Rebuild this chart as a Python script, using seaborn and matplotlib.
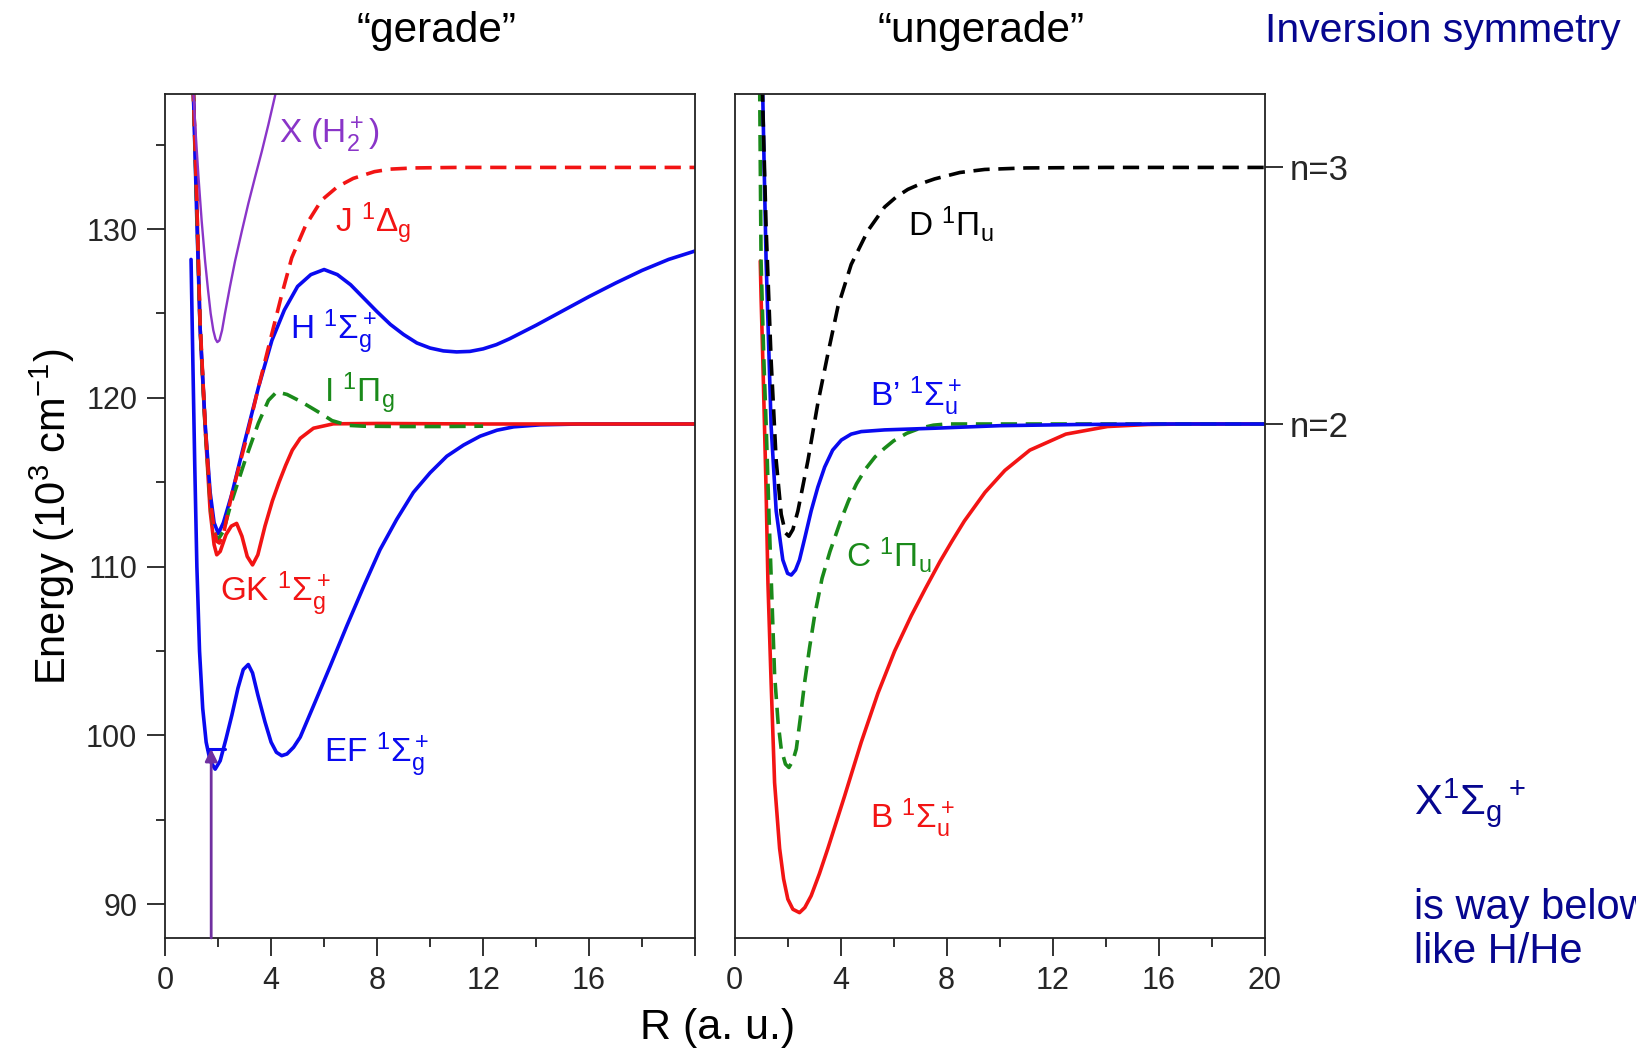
import matplotlib
matplotlib.use("Agg")
import matplotlib.pyplot as plt
import seaborn as sns
import pandas as pd

# ---------------- data (R in a.u., energy in 10^3 cm^-1) ----------------
# Left panel: "gerade"
xh2p_R = [1.02, 1.07, 1.15, 1.26, 1.38, 1.51, 1.62, 1.72, 1.82, 1.90, 1.97, 2.05, 2.15, 2.26,
          2.45, 2.64, 2.90, 3.14, 3.40, 3.65, 3.90, 4.15, 4.25]
xh2p_E = [139.5, 138.0, 135.8, 133.1, 130.5, 128.1, 126.4, 125.0, 124.0, 123.5, 123.3, 123.4,
          124.0, 125.0, 126.6, 128.1, 129.9, 131.5, 133.1, 134.6, 136.2, 137.9, 138.6]

j_R = [1.00, 1.07, 1.19, 1.32, 1.51, 1.70, 1.85, 1.95, 2.05, 2.20, 2.52, 3.02, 3.52, 4.03, 4.40,
       4.78, 5.30, 5.90, 6.50, 7.10, 7.90, 8.50, 9.40, 11.0, 14.0, 17.0, 20.0]
j_E = [140.0, 138.0, 132.0, 124.5, 118.5, 114.0, 112.2, 111.5, 111.4, 111.9, 114.3, 117.3, 120.6,
       123.8, 126.1, 128.3, 130.2, 131.7, 132.5, 133.0, 133.4, 133.55, 133.62, 133.65, 133.65,
       133.65, 133.65]

h_R = [1.00, 1.07, 1.19, 1.32, 1.51, 1.70, 1.85, 2.01, 2.20, 2.52, 3.02, 3.52, 4.03, 4.50, 5.00,
       5.50, 6.00, 6.50, 7.00, 7.50, 8.00, 8.50, 9.00, 9.50, 10.0, 10.5, 11.0, 11.5, 12.0, 12.5,
       13.0, 13.5, 14.0, 15.0, 16.0, 17.0, 18.0, 19.0, 20.0]
h_E = [140.0, 138.0, 131.0, 124.2, 118.5, 114.4, 112.6, 111.96, 112.6, 114.3, 117.5, 120.6, 123.4,
       125.2, 126.6, 127.3, 127.6, 127.3, 126.7, 125.9, 125.1, 124.35, 123.75, 123.25, 122.95,
       122.78, 122.72, 122.75, 122.9, 123.15, 123.5, 123.9, 124.3, 125.15, 126.0, 126.8, 127.55,
       128.2, 128.7]

i_R = [1.00, 1.07, 1.19, 1.32, 1.51, 1.70, 1.85, 2.00, 2.20, 2.50, 3.02, 3.52, 3.90, 4.21, 4.60,
       5.10, 5.53, 5.85, 6.30, 6.90, 7.50, 9.00, 10.5, 12.0]
i_E = [140.0, 138.0, 131.5, 124.3, 118.3, 113.8, 112.0, 111.6, 112.1, 113.8, 116.3, 118.5, 119.85,
       120.35, 120.2, 119.8, 119.4, 119.1, 118.65, 118.37, 118.32, 118.3, 118.3, 118.32]

gk_R = [1.00, 1.07, 1.19, 1.32, 1.51, 1.70, 1.85, 1.95, 2.08, 2.30, 2.50, 2.70, 2.90, 3.10, 3.30,
        3.50, 3.77, 4.05, 4.30, 4.55, 4.80, 5.10, 5.60, 6.35, 8.0, 12.0, 16.0, 20.0]
gk_E = [140.0, 138.0, 132.1, 124.2, 118.3, 113.3, 111.3, 110.7, 110.9, 111.9, 112.4, 112.56, 111.8,
        110.6, 110.1, 110.7, 112.4, 113.9, 115.0, 116.0, 116.9, 117.6, 118.2, 118.46, 118.48,
        118.45, 118.45, 118.45]

ef_R = [0.98, 1.05, 1.12, 1.20, 1.30, 1.42, 1.55, 1.70, 1.89, 2.08, 2.30, 2.52, 2.75, 2.95, 3.14,
        3.30, 3.50, 3.77, 4.00, 4.20, 4.40, 4.60, 4.85, 5.10, 5.60, 6.23, 6.86, 7.50, 8.11, 8.74,
        9.37, 10.0, 10.63, 11.26, 11.89, 12.52, 13.15, 14.15, 15.66, 20.0]
ef_E = [128.2, 122.0, 116.0, 110.0, 105.0, 101.6, 99.6, 98.5, 98.0, 98.5, 99.8, 101.2, 102.8, 103.9,
        104.2, 103.7, 102.4, 100.8, 99.6, 99.0, 98.8, 98.9, 99.3, 99.9, 101.75, 104.1, 106.5,
        108.85, 111.0, 112.8, 114.4, 115.56, 116.54, 117.2, 117.73, 118.08, 118.28, 118.4, 118.45,
        118.45]

vib_R = [1.60, 2.25]
vib_E = [99.2, 99.2]
arrow_R = 1.74
arrow_E = [88.0, 99.2]

# Right panel: "ungerade"
d_R = [1.05, 1.07, 1.19, 1.38, 1.57, 1.76, 1.92, 2.05, 2.20, 2.39, 2.77, 3.14, 3.52, 3.90, 4.40,
       5.03, 5.66, 6.10, 6.54, 7.05, 7.55, 8.50, 9.44, 11.0, 14.0, 17.0, 20.0]
d_E = [138.5, 137.0, 130.1, 122.2, 116.3, 113.1, 112.0, 111.8, 112.2, 113.3, 116.3, 119.66, 122.6,
       125.4, 127.9, 129.9, 131.3, 131.9, 132.35, 132.7, 132.97, 133.35, 133.53, 133.62, 133.65,
       133.65, 133.65]

bp_R = [1.05, 1.10, 1.19, 1.38, 1.57, 1.82, 2.00, 2.14, 2.30, 2.45, 2.65, 2.89, 3.14, 3.40, 3.70,
        4.03, 4.40, 4.78, 5.66, 7.55, 10.0, 13.0, 16.0, 20.0]
bp_E = [139.0, 135.0, 128.1, 118.3, 113.3, 110.4, 109.6, 109.5, 109.8, 110.4, 111.7, 113.3, 114.7,
        115.9, 116.9, 117.5, 117.85, 118.0, 118.1, 118.2, 118.35, 118.42, 118.45, 118.45]

c_R = [0.94, 0.97, 1.00, 1.10, 1.20, 1.30, 1.40, 1.51, 1.64, 1.76, 1.92, 2.05, 2.20, 2.33, 2.48,
       2.64, 2.83, 3.02, 3.30, 3.60, 4.00, 4.30, 4.60, 4.95, 5.30, 5.65, 6.00, 6.50, 7.00, 7.50,
       8.00, 12.0, 16.0, 20.0]
c_E = [140.0, 134.0, 128.1, 122.5, 118.0, 113.0, 108.5, 103.6, 100.8, 99.2, 98.3, 98.1, 98.5, 99.2,
       101.0, 103.1, 105.2, 107.1, 109.3, 110.9, 112.7, 113.9, 114.9, 115.8, 116.5, 117.0, 117.45,
       117.9, 118.2, 118.38, 118.45, 118.45, 118.45, 118.45]

b_R = [0.97, 1.00, 1.07, 1.13, 1.19, 1.26, 1.38, 1.51, 1.70, 1.85, 2.01, 2.20, 2.45, 2.65, 2.89,
       3.20, 3.52, 4.15, 4.78, 5.41, 6.04, 6.67, 7.20, 7.75, 8.20, 8.67, 9.45, 10.2, 11.14, 12.5,
       14.07, 15.6, 17.0, 20.0]
b_E = [128.1, 126.0, 122.0, 118.3, 114.5, 109.0, 103.1, 97.2, 93.3, 91.5, 90.3, 89.7, 89.5, 89.8,
       90.5, 91.8, 93.3, 96.4, 99.6, 102.5, 105.0, 107.1, 108.7, 110.3, 111.5, 112.7, 114.4, 115.7,
       116.9, 117.85, 118.3, 118.42, 118.45, 118.45]

n_levels = [133.65, 118.45]
n_labels = ["n=3", "n=2"]

x_ticks = [0, 4, 8, 12, 16, 20]
x_minor = [2, 6, 10, 14, 18]
y_ticks = [90, 100, 110, 120, 130]
y_minor = [95, 105, 115, 125, 135]

# ---------------- style ----------------
BLUE = "#0a0af0"
RED = "#f21414"
GREEN = "#1a8a1a"
BLACK = "#000000"
PURPLE = "#8a35c8"
ARROW = "#7030a0"
NAVY = "#06068f"

sns.set_theme(style="ticks")
plt.rcParams["font.family"] = ["Liberation Sans", "DejaVu Sans"]
plt.rcParams["mathtext.fontset"] = "custom"
plt.rcParams["mathtext.rm"] = "Liberation Sans"
plt.rcParams["mathtext.it"] = "Liberation Sans"
plt.rcParams["mathtext.bf"] = "Liberation Sans:bold"
plt.rcParams["mathtext.sf"] = "Liberation Sans"
plt.rcParams["axes.edgecolor"] = "#222222"
plt.rcParams["axes.linewidth"] = 1.3

DASH = (0, (4.5, 2.4))

fig = plt.figure(figsize=(16.36, 10.48), dpi=100)
axL = fig.add_axes([0.1009, 0.1050, 0.3240, 0.8053])
axR = fig.add_axes([0.4490, 0.1050, 0.3240, 0.8053])


def curve(ax, R, E, color, lw=2.6, ls="-"):
    df = pd.DataFrame({"R": R, "E": E})
    sns.lineplot(data=df, x="R", y="E", ax=ax, color=color, lw=lw, sort=False,
                 estimator=None, linestyle=ls, legend=False)


# left panel curves
curve(axL, ef_R, ef_E, BLUE)
curve(axL, gk_R, gk_E, RED)
curve(axL, h_R, h_E, BLUE)
curve(axL, i_R, i_E, GREEN, ls=DASH)
curve(axL, j_R, j_E, RED, ls=DASH)
curve(axL, xh2p_R, xh2p_E, PURPLE, lw=1.7)
curve(axL, vib_R, vib_E, BLUE, lw=2.2)
axL.annotate("", xy=(arrow_R, arrow_E[1]), xytext=(arrow_R, arrow_E[0]),
             arrowprops=dict(arrowstyle="-|>", color=ARROW, lw=2.0, mutation_scale=18,
                             shrinkA=0, shrinkB=0))

# right panel curves
curve(axR, b_R, b_E, RED)
curve(axR, c_R, c_E, GREEN, ls=DASH)
curve(axR, bp_R, bp_E, BLUE)
curve(axR, d_R, d_E, BLACK, ls=DASH)

# axes formatting
for ax in (axL, axR):
    ax.set_xlim(0, 20)
    ax.set_ylim(88, 138)
    ax.set_xlabel("")
    ax.set_ylabel("")
    ax.set_xticks(x_ticks)
    ax.set_xticks(x_minor, minor=True)
    ax.tick_params(axis="x", which="major", direction="out", length=13, width=1.3,
                   labelsize=22, pad=7, color="#222222")
    ax.tick_params(axis="x", which="minor", direction="out", length=6.5, width=1.3,
                   color="#222222")
    for s in ax.spines.values():
        s.set_visible(True)

axL.set_xticklabels([str(t) if t != 20 else "" for t in x_ticks])
axR.set_xticklabels([str(t) for t in x_ticks])

axL.set_yticks(y_ticks)
axL.set_yticks(y_minor, minor=True)
axL.set_yticklabels([str(t) for t in y_ticks])
axL.tick_params(axis="y", which="major", direction="out", length=13, width=1.3,
                labelsize=22, pad=7, color="#222222")
axL.tick_params(axis="y", which="minor", direction="out", length=6.5, width=1.3,
                color="#222222")

axR.yaxis.tick_right()
axR.set_yticks(n_levels)
axR.set_yticks([], minor=True)
axR.set_yticklabels(n_labels)
axR.tick_params(axis="y", which="major", direction="out", length=13, width=1.3,
                labelsize=25, pad=5, color="#222222", left=False, right=True,
                labelleft=False, labelright=True)

# curve labels
LFS = 24
axL.text(4.3, 135.1, r"X (H$_2^+$)", color=PURPLE, fontsize=LFS, va="baseline")
axL.text(6.4, 129.8, r"J $^1\Delta_g$", color=RED, fontsize=LFS, va="baseline")
axL.text(4.72, 123.5, r"H $^1\Sigma_g^+$", color=BLUE, fontsize=LFS, va="baseline")
axL.text(5.98, 119.7, r"I $^1\Pi_g$", color=GREEN, fontsize=LFS, va="baseline")
axL.text(2.08, 107.96, r"GK $^1\Sigma_g^+$", color=RED, fontsize=LFS, va="baseline")
axL.text(5.98, 98.4, r"EF $^1\Sigma_g^+$", color=BLUE, fontsize=LFS, va="baseline")

axR.text(6.55, 129.6, r"D $^1\Pi_u$", color=BLACK, fontsize=LFS, va="baseline")
axR.text(5.1, 119.5, r"B’ $^1\Sigma_u^+$", color=BLUE, fontsize=LFS, va="baseline")
axR.text(4.2, 110.0, r"C $^1\Pi_u$", color=GREEN, fontsize=LFS, va="baseline")
axR.text(5.1, 94.5, r"B $^1\Sigma_u^+$", color=RED, fontsize=LFS, va="baseline")

# figure texts
fig.text(0.0318, 0.507, r"Energy (10$^3$ cm$^{-1}$)", rotation=90, ha="center",
         va="center", fontsize=30, color="black")
fig.text(0.4389, 0.019, "R (a. u.)", ha="center", va="center", fontsize=31, color="black")
fig.text(0.2665, 0.9704, "“gerade”", ha="center", va="center", fontsize=30.5, color="black")
fig.text(0.5996, 0.9704, "“ungerade”", ha="center", va="center", fontsize=30.5, color="black")
fig.text(0.7730, 0.9704, "Inversion symmetry", ha="left", va="center", fontsize=29.5,
         color=NAVY)
fig.text(0.8643, 0.2338, r"X$^1\Sigma_g{}^+$", ha="left", va="center", fontsize=30,
         color=NAVY)
fig.text(0.8643, 0.1336, "is way below", ha="left", va="center", fontsize=30, color=NAVY)
fig.text(0.8643, 0.0920, "like H/He", ha="left", va="center", fontsize=30, color=NAVY)

fig.savefig("out.png", dpi=100, facecolor="white")
